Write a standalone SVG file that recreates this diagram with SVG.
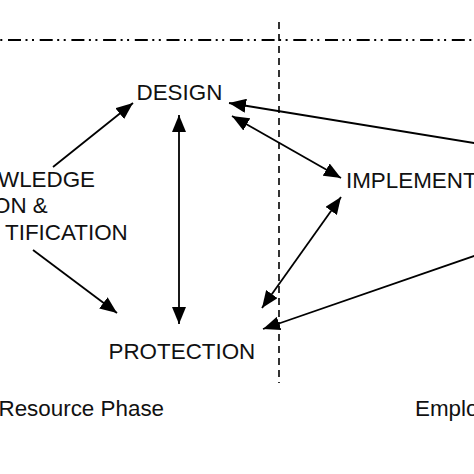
<svg xmlns="http://www.w3.org/2000/svg" width="474" height="474" viewBox="0 0 474 474">
<style>
text { font-family: "Liberation Sans", Arial, sans-serif; font-size: 22.4px; fill: #111; }
.arrow { stroke: #000; stroke-width: 1.8; fill: none; }
.guide { stroke: #000; fill: none; }
</style>
<defs>
<marker id="ah" markerUnits="userSpaceOnUse" markerWidth="18" markerHeight="14" refX="17" refY="7" orient="auto-start-reverse">
<path d="M0,0 L17,7 L0,14 z" fill="#000"/>
</marker>
</defs>
<rect width="474" height="474" fill="#fff"/>
<g id="guides">
<line class="guide" x1="0" y1="40" x2="474" y2="40" stroke-width="1.8" stroke-dasharray="13 4.5 2 4.5 2 5.7" stroke-dashoffset="-8"/>
<line class="guide" x1="279" y1="22" x2="279" y2="383" stroke-width="1.6" stroke-dasharray="7 5"/>
</g>
<g id="connectors">
<line class="arrow" x1="53" y1="167" x2="133" y2="103" marker-end="url(#ah)"/>
<line class="arrow" x1="33" y1="250" x2="117" y2="313" marker-end="url(#ah)"/>
<line class="arrow" x1="179" y1="115" x2="179" y2="324" marker-start="url(#ah)" marker-end="url(#ah)"/>
<line class="arrow" x1="232" y1="116" x2="341" y2="178" marker-start="url(#ah)" marker-end="url(#ah)"/>
<line class="arrow" x1="341" y1="197" x2="262" y2="308" marker-start="url(#ah)" marker-end="url(#ah)"/>
<line class="arrow" x1="480" y1="144" x2="229" y2="103" marker-end="url(#ah)"/>
<line class="arrow" x1="480" y1="254" x2="263" y2="329" marker-end="url(#ah)"/>
</g>
<g id="design"><text x="136.5" y="100">DESIGN</text></g>
<g id="implement"><text x="346" y="188">IMPLEMENT</text></g>
<g id="protection"><text x="108.5" y="359">PROTECTION</text></g>
<g id="knowledge">
<text x="-2" y="187">WLEDGE</text>
<text x="-7" y="213">ON &amp;</text>
<text x="5" y="240">TIFICATION</text>
</g>
<g id="phases">
<text x="-1.5" y="416">Resource Phase</text>
<text x="415" y="416">Emplo</text>
</g>
</svg>
